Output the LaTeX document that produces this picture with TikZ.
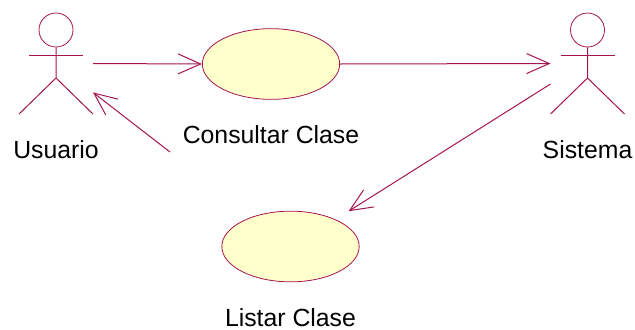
\documentclass[tikz,border=0pt]{standalone}
\usepackage{fontspec}
\setmainfont{Liberation Sans}
\usetikzlibrary{calc,shapes.geometric,arrows.meta}
\definecolor{rosaline}{HTML}{A5144F}
\definecolor{rosafill}{HTML}{FFFFCC}
\tikzstyle{usecase} = [ellipse, draw=rosaline, fill=rosafill, line width=0.6pt, inner sep=0pt, minimum width=103pt, minimum height=53pt]
\tikzstyle{actor} = [rectangle, inner sep=0pt, outer sep=0pt, minimum width=55.5pt, minimum height=75.75pt]
\tikzstyle{actorhead} = [circle, draw=rosaline, line width=0.6pt, inner sep=0pt, minimum size=25.5pt]
\tikzstyle{label} = [text=black, font=\fontsize{18.6}{20}\selectfont, inner sep=0pt]
\tikzstyle{connector} = [draw=rosaline, line width=0.75pt, -{Straight Barb[length=17pt, width=15pt, line width=0.75pt]}]

\begin{document}
\begin{tikzpicture}[x=0.75pt, y=-0.75pt]
            \useasboundingbox (0,0) rectangle (635,329);
            \node (usuario) [actor] at (56,63.5) {};
            \node (sistema) [actor] at (587.5,63.5) {};
            \node (consultar) [usecase] at (271,64) {};
            \node (listar) [usecase] at (290.5,246.5) {};
            \node (usuariolabel) [label, below of = usuario, yshift = -35.8pt] {Usuario};
            \node (sistemalabel) [label, below of = sistema, yshift = -35.8pt] {Sistema};
            \node (consultarlabel) [label, below of = consultar, yshift = -24.8pt] {Consultar Clase};
            \node (listarlabel) [label, below of = listar, yshift = -24.6pt] {Listar Clase};
            \foreach \actorname in {usuario,sistema} {
                \node (\actorname head) [actorhead] at ($(\actorname)+(0,-33.5)$) {};
                \draw [rosaline, line width=0.75pt] (\actorname head.south) -- ($(\actorname)+(0,14.5)$) -- ($(\actorname)+(-37,50.5)$);
                \draw [rosaline, line width=0.75pt] ($(\actorname)+(0,14.5)$) -- ($(\actorname)+(37,50.5)$);
                \draw [rosaline, line width=0.75pt] ($(\actorname)+(-27,-8.5)$) -- ($(\actorname)+(27,-8.5)$);
            }
            \coordinate (retorno) at (170,152);
            \draw [connector] (usuario.east) -- (consultar.west);
            \draw [connector] (consultar.east) -- (sistema.west);
            \draw [connector, shorten >=11.6pt] (sistema.209.8) -- (listar.31.2);
            \draw [connector] (retorno) -- (usuario.-38);
        \end{tikzpicture}
\end{document}
